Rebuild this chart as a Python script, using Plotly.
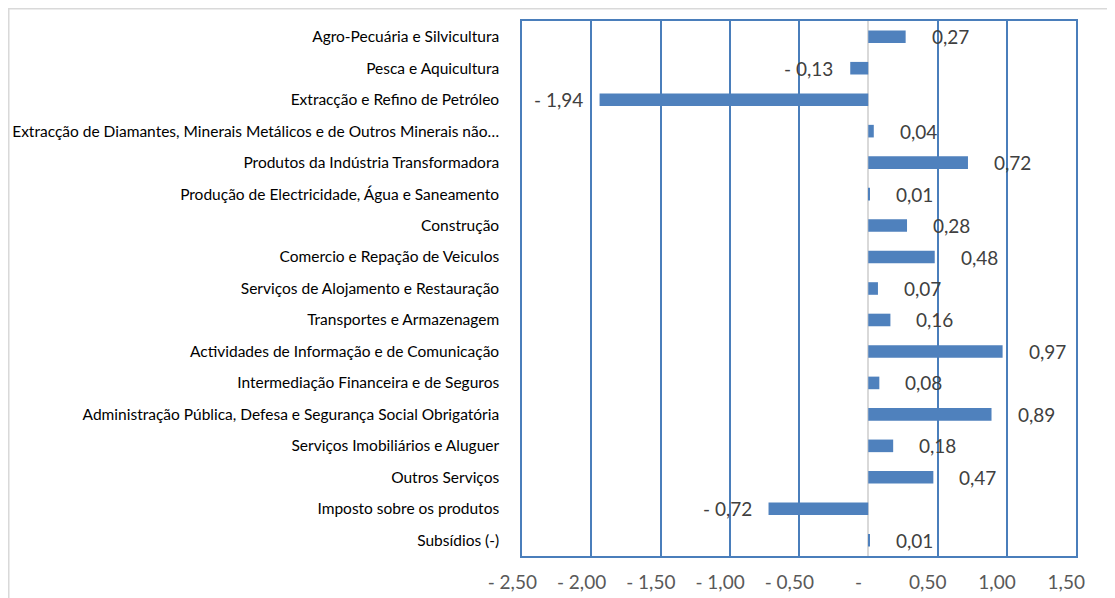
import plotly.graph_objects as go

categories = [
    "Agro-Pecuária e Silvicultura",
    "Pesca e Aquicultura",
    "Extracção e Refino de Petróleo",
    "Extracção de Diamantes, Minerais Metálicos e de Outros Minerais não…",
    "Produtos da Indústria Transformadora",
    "Produção de Electricidade, Água e Saneamento",
    "Construção",
    "Comercio e Repação de Veiculos",
    "Serviços de Alojamento e Restauração",
    "Transportes e Armazenagem",
    "Actividades de Informação e de Comunicação",
    "Intermediação Financeira e de Seguros",
    "Administração Pública, Defesa e Segurança Social Obrigatória",
    "Serviços Imobiliários e Aluguer",
    "Outros Serviços",
    "Imposto sobre os produtos",
    "Subsídios (-)",
]
values = [0.27, -0.13, -1.94, 0.04, 0.72, 0.01, 0.28, 0.48, 0.07, 0.16,
          0.97, 0.08, 0.89, 0.18, 0.47, -0.72, 0.01]
tick_vals = [-2.5, -2.0, -1.5, -1.0, -0.5, 0.0, 0.5, 1.0, 1.5]
tick_text = ["- 2,50", "- 2,00", "- 1,50", "- 1,00", "- 0,50", "-", "0,50", "1,00", "1,50"]


def fmt(v):
    s = f"{abs(v):.2f}".replace(".", ",")
    return ("- " + s) if v < 0 else s


BLUE = "#4F81BD"
GRID = "#4A7EBB"
FONT = "Lato, Carlito, Calibri, sans-serif"
PAD = "\u00a0\u00a0\u00a0\u00a0"

fig = go.Figure()
fig.add_trace(go.Bar(
    y=categories, x=values, orientation="h",
    marker=dict(color=BLUE, line=dict(width=0)),
))

for c, v in zip(categories, values):
    fig.add_annotation(
        x=v, y=c, xref="x", yref="y", text=fmt(v), showarrow=False,
        xanchor="left" if v >= 0 else "right",
        xshift=24 if v >= 0 else -15,
        font=dict(family=FONT, size=19, color="#404040"),
    )

# outer chart border
fig.add_shape(type="rect", xref="paper", yref="paper",
              x0=-0.9264, x1=1.1, y0=-0.1, y1=1.0229,
              line=dict(color="#D9D9D9", width=1.5), layer="below")

fig.update_layout(
    width=1115, height=598,
    margin=dict(l=514, r=47, t=13, b=50),
    plot_bgcolor="white", paper_bgcolor="white",
    bargap=0.6, showlegend=False,
    font=dict(family=FONT, color="#404040"),
    xaxis=dict(
        range=[-2.5, 1.5], tickvals=tick_vals, ticktext=[t + PAD for t in tick_text],
        tickangle=0,
        showgrid=True, gridcolor=GRID, gridwidth=1.5,
        zeroline=True, zerolinecolor="#D9D9D9", zerolinewidth=1.5,
        showline=True, mirror=True, linecolor=GRID, linewidth=1.5,
        tickfont=dict(family=FONT, size=19, color="#595959"),
        ticks="", ticklabelstandoff=8, automargin=False, fixedrange=True,
    ),
    yaxis=dict(
        autorange="reversed", showgrid=False, zeroline=False,
        showline=True, mirror=True, linecolor=GRID, linewidth=1.5,
        tickfont=dict(family=FONT, size=15.5, color="#000000"),
        ticks="", ticklabelstandoff=18, automargin=False,
    ),
)

fig.write_html("out.html")
